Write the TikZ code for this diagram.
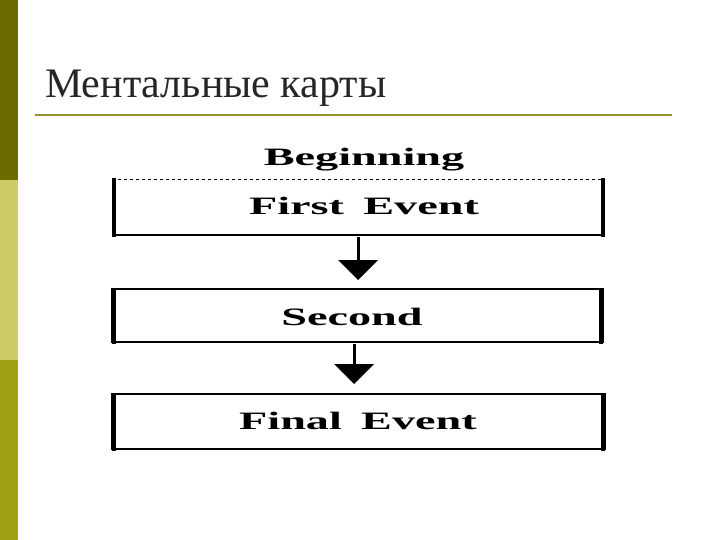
\documentclass[tikz,border=0pt]{standalone}
\usepackage{fontspec}
\usepackage{graphicx}
\setmainfont{Liberation Serif}
\newfontfamily\titlefont[Script=Cyrillic]{Liberation Serif}
\definecolor{barA}{RGB}{107,107,0}
\definecolor{barB}{RGB}{204,204,102}
\definecolor{barC}{RGB}{160,160,20}
\definecolor{rule}{RGB}{150,150,40}
\newcommand{\wide}[1]{\scalebox{1.85}[1]{#1}}
\begin{document}
\begin{tikzpicture}[x=1pt,y=-1pt,
  lbl/.style={font=\fontsize{25}{25}\selectfont\bfseries, text=black},
  boxline/.style={line width=1.5pt},
  arr/.style={line width=3pt}]
\useasboundingbox (0,0) rectangle (720,540);
\fill[white] (0,0) rectangle (720,540);
\fill[barA] (0,0) rectangle (18,180);
\fill[barB] (0,180) rectangle (18,360);
\fill[barC] (0,360) rectangle (18,540);
\node[anchor=base west, font=\titlefont\fontsize{42}{42}\selectfont, text=black!85, inner sep=0pt] (title) at (45,98) {Ментальные карты};
\draw[rule, line width=1.5pt] (35,115) -- (672,115);
\node[lbl] (beg) at (364,160) {\wide{Beginning}};
% box 1
\draw[boxline] (112,235) -- (605,235);
\draw[line width=4pt] (114,178) -- (114,237);
\draw[line width=4pt] (603,178) -- (603,237);
\draw[dashed, line width=0.8pt] (112,179) -- (605,179);
\node[lbl] (b1) at (364,206) {\wide{First\, Event}};
% box 2
\draw[boxline] (112,289) rectangle (603,342);
\draw[line width=4pt] (114,288) -- (114,344);
\draw[line width=4pt] (601,288) -- (601,344);
\node[lbl] (b2) at (352,317) {\wide{Second}};
% box 3
\draw[boxline] (112,394) rectangle (605,449);
\draw[line width=4pt] (114,393) -- (114,451);
\draw[line width=4pt] (603,393) -- (603,451);
\node[lbl] (b3) at (358,421) {\wide{Final\, Event}};
% arrows
\coordinate (a1s) at (358,237); \coordinate (a1e) at (358,262);
\draw[arr] (a1s) -- (a1e);
\fill (338,260) -- (378,260) -- (358,280) -- cycle;
\coordinate (a2s) at (354,344); \coordinate (a2e) at (354,366);
\draw[arr] (a2s) -- (a2e);
\fill (334,364) -- (374,364) -- (354,384) -- cycle;
\end{tikzpicture}
\end{document}
